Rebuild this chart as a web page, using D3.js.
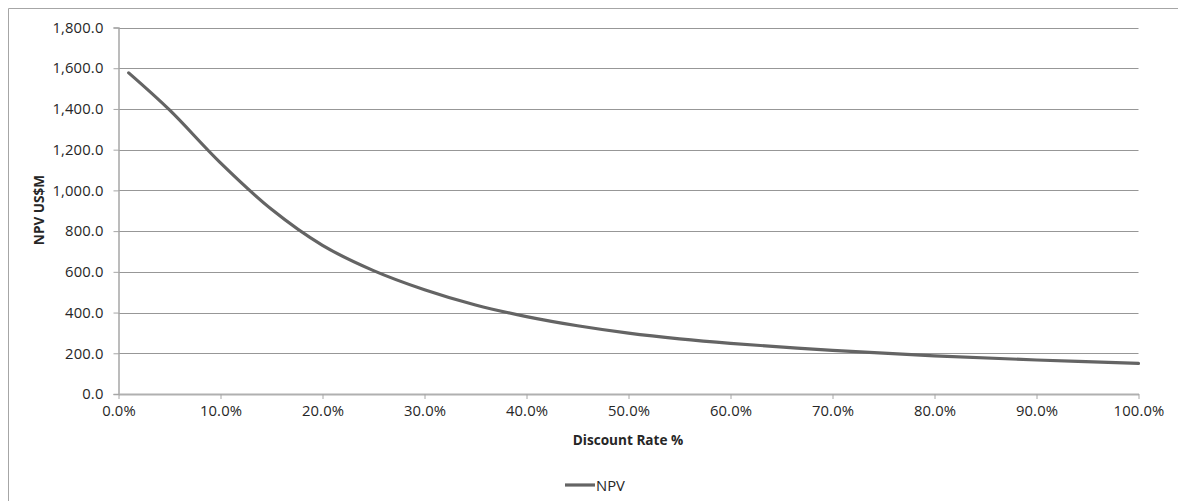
<!DOCTYPE html>
<html><head><meta charset="utf-8">
<script src="https://cdn.jsdelivr.net/npm/d3@7"></script>
<style>
body{margin:0;background:#fff;}
svg{display:block;font-family:"Open Sans",Lato,sans-serif;}
</style></head>
<body><svg id="c" width="1178" height="501"></svg>
<script>
const rates = [1, 5, 10, 15, 20, 25, 30, 35, 40, 45, 50, 55, 60, 70, 80, 90, 100];
const npv = [1577, 1395, 1135, 907, 730, 606, 512, 437, 380, 335, 299, 271, 249, 214, 187, 167, 150];
const xTicks = [0,10,20,30,40,50,60,70,80,90,100];
const yTicks = [0,200,400,600,800,1000,1200,1400,1600,1800];
const seriesName = "NPV";
const xTitle = "Discount Rate %";
const yTitle = "NPV US$M";

const svg = d3.select("#c");
const FONT = "'Open Sans',Lato,sans-serif";
const FS = 14.8;
// outer border
svg.append("path").attr("d","M8.5,501 V8.5 H1178").attr("fill","none").attr("stroke","#a6a6a6").attr("stroke-width",1);

const x = d3.scaleLinear().domain([0,100]).range([118.5,1138.5]);
const y = d3.scaleLinear().domain([0,1800]).range([394,27.5]);
const txt = "#262626";

// gridlines
svg.append("g").selectAll("line").data(yTicks.filter(d=>d>0)).join("line")
  .attr("x1",x(0)).attr("x2",x(100)).attr("y1",d=>Math.round(y(d))+0.5).attr("y2",d=>Math.round(y(d))+0.5)
  .attr("stroke","#979797").attr("stroke-width",1);

// y axis
const yAx = svg.append("g").attr("transform",`translate(${x(0)},0)`)
  .call(d3.axisLeft(y).tickValues(yTicks).tickFormat(d3.format(",.1f")).tickSize(5).tickPadding(10));
yAx.select(".domain").attr("stroke","#a6a6a6").attr("stroke-width",1.5);
yAx.selectAll(".tick line").attr("stroke","#a6a6a6");
yAx.selectAll(".tick text").attr("fill",txt).attr("font-size",FS).attr("font-family",FONT).attr("letter-spacing","0.15px");

// x axis
const xAx = svg.append("g").attr("transform",`translate(0,${y(0)})`)
  .call(d3.axisBottom(x).tickValues(xTicks).tickFormat(d=>d3.format(".1f")(d)+"%").tickSize(5).tickSizeOuter(0).tickPadding(6));
xAx.select(".domain").attr("stroke","#b0b0b0").attr("stroke-width",2);
xAx.selectAll(".tick line").attr("stroke","#a6a6a6");
xAx.selectAll(".tick text").attr("fill",txt).attr("font-size",FS).attr("font-family",FONT).attr("letter-spacing","0.15px");

// line
const data = rates.map((r,i)=>({r, v:npv[i]}));
svg.append("path").datum(data)
  .attr("d", d3.line().x(d=>x(d.r)).y(d=>y(d.v)).curve(d3.curveCatmullRom.alpha(0.5)))
  .attr("fill","none").attr("stroke","#646464").attr("stroke-width",3.2).attr("stroke-linecap","round");

// titles
svg.append("text").attr("x",628).attr("y",445).attr("text-anchor","middle").attr("font-family",FONT)
  .attr("font-weight","bold").attr("font-size",13.6).attr("fill",txt).text(xTitle);
svg.append("text").attr("transform","translate(44,210) rotate(-90)").attr("text-anchor","middle").attr("font-family",FONT)
  .attr("font-weight","bold").attr("font-size",13.6).attr("fill",txt).text(yTitle);

// legend
svg.append("line").attr("x1",565).attr("x2",595).attr("y1",485).attr("y2",485)
  .attr("stroke","#646464").attr("stroke-width",3.2);
svg.append("text").attr("x",596).attr("y",490.5).attr("font-family",FONT).attr("font-size",FS).attr("fill",txt).text(seriesName);
</script></body></html>
